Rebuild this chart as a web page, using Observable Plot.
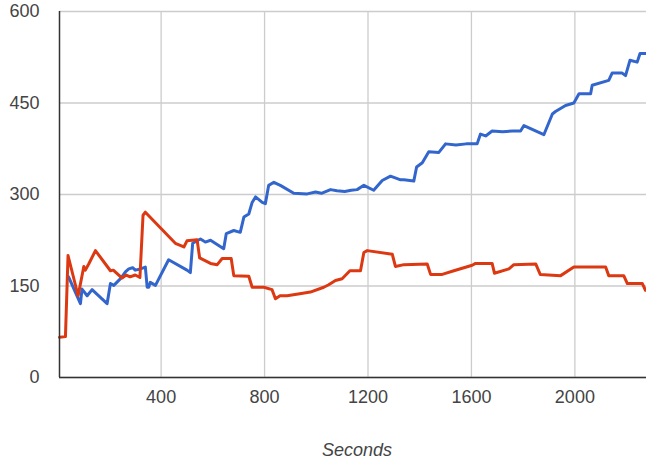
<!DOCTYPE html>
<html>
<head>
<meta charset="utf-8">
<script src="https://cdn.jsdelivr.net/npm/d3@7"></script>
<script src="https://cdn.jsdelivr.net/npm/@observablehq/plot@0.6"></script>
<style>
  html, body { margin: 0; padding: 0; background: #fff; }
  #chart svg { display: block; }
</style>
</head>
<body>
<div id="chart"></div>
<script>
const xTicks = [400, 800, 1200, 1600, 2000];
const yTicks = [0, 150, 300, 450, 600];
const xLabel = "Seconds";

const blueX = [42,88,94,114,133,191,204,217,243,262,275,290,300,320,339,346,352,358,378,429,500,513,522,552,571,591,642,652,681,706,720,739,752,765,791,803,816,836,861,913,965,997,1020,1055,1080,1110,1135,1158,1184,1222,1255,1287,1326,1339,1377,1388,1410,1435,1474,1500,1540,1580,1622,1635,1655,1680,1720,1760,1790,1803,1880,1913,1925,1964,1996,2016,2061,2067,2131,2144,2183,2196,2213,2241,2252,2277];
const blueY = [165,121,145,134,144,121,154,151,162,173,178,180,176,178,181,148,148,156,151,193,176,172,220,227,222,225,211,236,241,238,263,268,287,296,287,285,315,320,315,302,301,304,302,308,306,305,307,308,315,307,323,330,324,324,322,345,352,370,369,383,381,383,383,399,396,404,403,404,404,413,398,432,436,446,450,465,465,479,487,499,499,495,520,517,531,531];

const redX = [7,30,40,79,101,107,120,146,204,215,249,265,280,300,318,330,339,455,488,500,539,549,591,617,636,671,681,739,752,797,829,842,860,887,930,977,1029,1048,1074,1100,1130,1171,1184,1197,1294,1306,1339,1429,1442,1487,1532,1603,1616,1680,1689,1745,1764,1849,1866,1945,1996,2048,2119,2131,2189,2203,2261,2273,2277];
const redY = [66,67,200,134,182,176,186,208,175,176,163,168,165,168,164,266,271,220,214,224,226,196,187,185,195,195,167,166,148,148,144,129,134,134,137,140,148,152,159,162,175,175,205,208,202,182,185,186,169,169,175,184,187,187,171,178,185,186,169,167,181,181,181,167,167,154,154,143,143];

const blue = blueX.map((x, i) => ({x, y: blueY[i]}));
const red = redX.map((x, i) => ({x, y: redY[i]}));

const chart = Plot.plot({
  width: 646,
  height: 461,
  marginLeft: 59,
  marginRight: 0,
  marginTop: 11,
  marginBottom: 84,
  style: {fontFamily: "'Liberation Sans', Arial, sans-serif", fontSize: "18px", color: "#444", background: "#fff"},
  x: {domain: [7, 2277], ticks: xTicks, tickSize: 0, tickPadding: 13, label: null, tickFormat: d => String(d)},
  y: {domain: [0, 600], ticks: yTicks, tickSize: 0, tickPadding: 20, label: null, tickFormat: d => String(d)},
  marks: [
    Plot.gridX(xTicks, {stroke: "#ccc", strokeOpacity: 1, strokeWidth: 1.3}),
    Plot.gridY(yTicks, {stroke: "#ccc", strokeOpacity: 1, strokeWidth: 1.3}),
    Plot.axisX({ticks: xTicks, tickSize: 0, tickPadding: 13, label: null, fill: "#444", tickFormat: d => String(d)}),
    Plot.axisY({ticks: yTicks, tickSize: 0, tickPadding: 20, label: null, fill: "#444", tickFormat: d => String(d)}),
    Plot.line(blue, {x: "x", y: "y", stroke: "#3366cc", strokeWidth: 3, strokeLinejoin: "round"}),
    Plot.line(red, {x: "x", y: "y", stroke: "#dc3912", strokeWidth: 3, strokeLinejoin: "round"}),
    Plot.ruleX([7], {stroke: "#333", strokeWidth: 1.5}),
    Plot.ruleY([0], {stroke: "#333", strokeWidth: 1.5}),
    Plot.text([xLabel], {frameAnchor: "bottom", dy: 78, dx: 4, text: d => d, fontStyle: "italic", fontSize: 18, fill: "#444"})
  ]
});
document.getElementById("chart").appendChild(chart);
</script>
</body>
</html>
